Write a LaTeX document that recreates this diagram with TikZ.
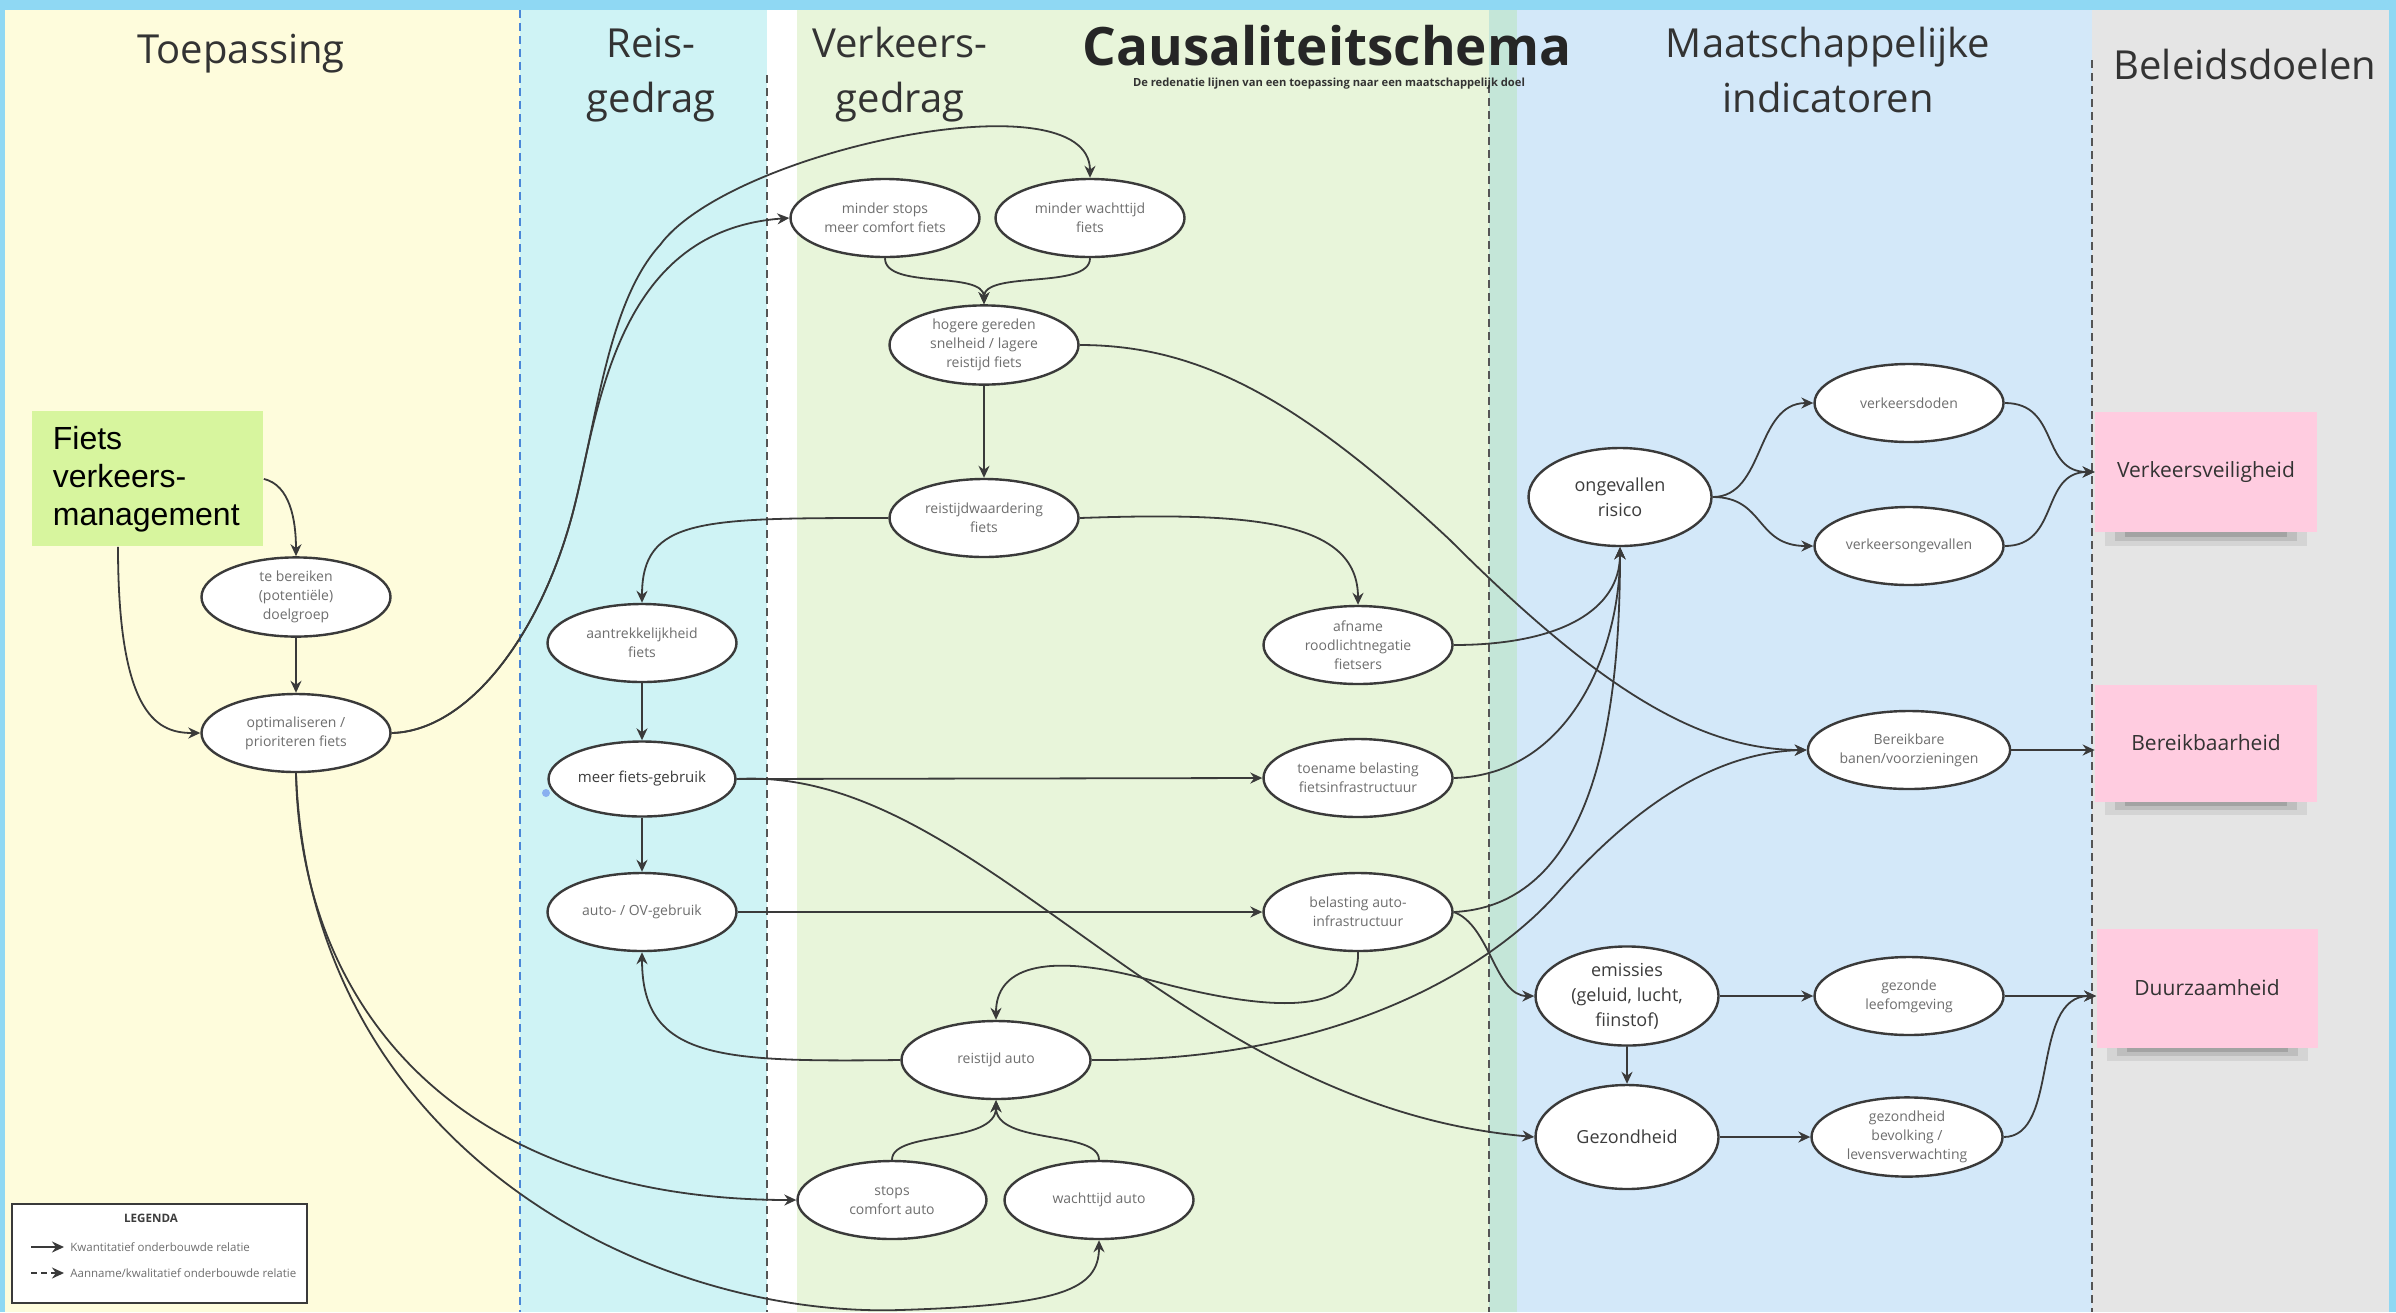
\documentclass[tikz,border=0pt]{standalone}
\usepackage{fontspec}
\setmainfont{Open Sans}
\newfontfamily\arialf{Liberation Sans}
\usetikzlibrary{arrows.meta,calc,shapes.geometric}
\definecolor{yelc}{HTML}{FEFCDC}
\definecolor{cyanc}{HTML}{CFF3F5}
\definecolor{greenc}{HTML}{E8F5DA}
\definecolor{tealc}{HTML}{C4E6D8}
\definecolor{lbluec}{HTML}{D3E8F9}
\definecolor{grayc}{HTML}{E5E5E5}
\definecolor{borderc}{HTML}{8FD8F3}
\definecolor{pinkc}{HTML}{FFCCE0}
\definecolor{fvmc}{HTML}{D7F59E}
\definecolor{linec}{HTML}{3A3A3A}
\definecolor{txtg}{HTML}{6E6E6E}
\definecolor{txtd}{HTML}{3C3C3C}
\definecolor{headc}{HTML}{333333}
\definecolor{sepc}{HTML}{555555}
\definecolor{bluesep}{HTML}{4A86D8}
\definecolor{bluedot}{HTML}{8AB0F0}
\tikzset{
  ell/.style={ellipse, draw=linec, line width=1.2pt, fill=white, minimum width=94.5pt, minimum height=39pt,
    inner sep=1pt, align=center, font=\fontsize{7}{9.5}\selectfont, text=txtg},
  ellbig/.style={ell, minimum width=91.5pt, minimum height=49pt, font=\fontsize{9}{12.5}\selectfont, text=txtd},
  arr/.style={draw=linec, line width=0.9pt, -{Stealth[length=6pt,width=5.5pt]}},
  dasharr/.style={arr, dash pattern=on 3pt off 2pt},
  note/.style={rectangle, fill=pinkc, minimum width=111pt, minimum height=60pt, inner sep=0pt,
    font=\fontsize{10.5}{12}\selectfont, text=headc},
  heading/.style={font=\fontsize{20}{27.5}\selectfont, text=headc, align=center},
  vsep/.style={draw=sepc, line width=0.6pt, dash pattern=on 4pt off 2.5pt},
  legtext/.style={font=\fontsize{5.75}{7}\selectfont, text=txtg, anchor=west, inner sep=0pt},
}
\begin{document}
\begin{tikzpicture}[x=0.5pt,y=-0.5pt]
\useasboundingbox (0,0) rectangle (2396,1312);
% backgrounds
\fill[borderc] (0,0) rectangle (2396,1312);
\fill[yelc] (5,10) rectangle (520,1312);
\fill[cyanc] (520,10) rectangle (767,1312);
\fill[white] (767,10) rectangle (797,1312);
\fill[greenc] (797,10) rectangle (1489,1312);
\fill[tealc] (1489,10) rectangle (1517,1312);
\fill[lbluec] (1517,10) rectangle (2092,1312);
\fill[grayc] (2092,10) rectangle (2389,1312);
\draw[draw=bluesep, line width=0.6pt, dash pattern=on 4pt off 2.5pt] (520,10) -- (520,1312);
\draw[vsep] (767,75) -- (767,1312);
\draw[vsep] (1489,85) -- (1489,1312);
\draw[vsep] (2092,60) -- (2092,1312);

% headings
\node[heading] (hToe) at (241,54) {Toepassing};
\node[heading] (hReis) at (651,75) {Reis-\\gedrag};
\node[heading] (hVerk) at (900,75) {Verkeers-\\gedrag};
\node[font=\fontsize{26.5}{30}\selectfont\bfseries, text=black!85] (hCaus) at (1327,46) {Causaliteitschema};
\node[font=\fontsize{5.6}{7}\selectfont\bfseries, text=headc] (hSub) at (1329,84) {De redenatie lijnen van een toepassing naar een maatschappelijk doel};
\node[heading] (hMaat) at (1828,70) {Maatschappelijke\\indicatoren};
\node[heading] (hBel) at (2245,64) {Beleidsdoelen};

% sticky note shadows
\foreach \l/\r/\b in {2095/2317/532, 2095/2317/801, 2097/2318/1047}{
  \fill[black, opacity=0.07] (\l+10,\b) rectangle (\r-10,\b+14);
  \fill[black, opacity=0.10] (\l+20,\b) rectangle (\r-20,\b+9);
  \fill[black, opacity=0.14] (\l+30,\b) rectangle (\r-30,\b+5);
}

% nodes
\node[rectangle, fill=fvmc, anchor=north west, minimum width=115.5pt, minimum height=67.5pt,
  text width=95pt, inner xsep=10pt, align=left, font=\arialf\fontsize{16}{19}\selectfont, text=black]
  (fvm) at (32,411) {Fiets\\verkeers-\\management};
\node[ell] (tb) at (296,597) {te bereiken\\(potentiële)\\doelgroep};
\node[ell] (opt) at (296,733) {optimaliseren /\\prioriteren fiets};
\node[ell] (mscf) at (885,218) {minder stops\\meer comfort fiets};
\node[ell] (mwf) at (1090,218) {minder wachttijd\\fiets};
\node[ell] (hgs) at (984,345) {hogere gereden\\snelheid / lagere\\reistijd fiets};
\node[ell] (rwf) at (984,518) {reistijdwaardering\\fiets};
\node[ell] (aant) at (642,643) {aantrekkelijkheid\\fiets};
\node[ell] (afn) at (1358,645) {afname\\roodlichtnegatie\\fietsers};
\node[ell, minimum width=91.5pt, minimum height=37.5pt, font=\fontsize{7.5}{9.5}\selectfont, text=txtd] (mfg) at (642,779) {meer fiets-gebruik};
\node[ell] (toe) at (1358,778) {toename belasting\\fietsinfrastructuur};
\node[ell] (aov) at (642,912) {auto- / OV-gebruik};
\node[ell] (bai) at (1358,912) {belasting auto-\\infrastructuur};
\node[ell] (rta) at (996,1060) {reistijd auto};
\node[ell] (sca) at (892,1200) {stops\\comfort auto};
\node[ell] (wta) at (1099,1200) {wachttijd auto};
\node[ellbig] (ong) at (1620,497) {ongevallen\\risico};
\node[ell] (vd) at (1909,403) {verkeersdoden};
\node[ell] (vo) at (1909,546) {verkeersongevallen};
\node[ell] (bb) at (1909,750) {Bereikbare\\banen/voorzieningen};
\node[ellbig, minimum height=48pt] (emi) at (1627,996) {emissies\\(geluid, lucht,\\fiinstof)};
\node[ellbig, minimum height=52pt] (gez) at (1627,1137) {Gezondheid};
\node[ell] (gl) at (1909,996) {gezonde\\leefomgeving};
\node[ell, minimum width=95.5pt] (gb) at (1907,1137) {gezondheid\\bevolking /\\levensverwachting};
\node[note] (vv) at (2206,472) {Verkeersveiligheid};
\node[note, minimum height=58.5pt] (ba) at (2206,743) {Bereikbaarheid};
\node[note, minimum width=110.5pt, minimum height=59.5pt] (du) at (2207,988) {Duurzaamheid};

\fill[bluedot] (546,793) circle (4);

% edges
\draw[arr] (fvm.east) .. controls (290,485) and (296,520) .. (tb.north);
\draw[arr] ($(fvm.south west)+(86,0)$) .. controls (118,720) and (160,733) .. (opt.west);
\draw[arr] (tb.south) -- (opt.north);
\draw[arr] (opt.east) .. controls (470,731) and (545,630) .. (576,500) .. controls (600,400) and (620,230) .. (mscf.west);
\draw[arr] (opt.east) .. controls (470,731) and (545,630) .. (576,500) .. controls (598,410) and (610,300) .. (660,245) .. controls (730,150) and (1090,75) .. (mwf.north);
\draw[arr] (opt.south) .. controls (300,1000) and (450,1200) .. (sca.west);
\draw[arr] (opt.south) .. controls (310,1150) and (650,1318) .. (900,1310) .. controls (1060,1305) and (1099,1290) .. (wta.south);
\draw[arr] (mfg.east) .. controls (980,765) and (1170,1105) .. (gez.west);
\draw[arr] (mfg.east) -- (toe.west);
\draw[arr] (aant.south) -- (mfg.north);
\draw[arr] (mfg.south) -- (aov.north);
\draw[arr] (aov.east) -- (bai.west);
\draw[arr] (mscf.south) .. controls (885,290) and (984,270) .. (hgs.north);
\draw[arr] (mwf.south) .. controls (1090,290) and (984,270) .. (hgs.north);
\draw[arr] (hgs.south) -- (rwf.north);
\draw[arr] (hgs.east) .. controls (1200,345) and (1300,400) .. (1450,540) .. controls (1600,690) and (1700,750) .. (bb.west);
\draw[arr] (rwf.west) .. controls (700,518) and (642,518) .. (aant.north);
\draw[arr] (rwf.east) .. controls (1250,512) and (1358,520) .. (afn.north);
\draw[arr] (afn.east) .. controls (1560,645) and (1620,610) .. (ong.south);
\draw[arr] (toe.east) .. controls (1570,775) and (1620,650) .. (ong.south);
\draw[arr] (bai.east) .. controls (1600,905) and (1620,700) .. (ong.south);
\draw[arr] (bai.east) .. controls (1490,925) and (1495,996) .. (emi.west);
\draw[arr] (bai.south) .. controls (1360,1020) and (1260,1010) .. (1150,980) .. controls (1040,950) and (996,970) .. (rta.north);
\draw[arr] (rta.west) .. controls (720,1062) and (642,1060) .. (aov.south);
\draw[arr] (rta.east) .. controls (1350,1062) and (1500,960) .. (1560,890) .. controls (1640,800) and (1720,752) .. (bb.west);
\draw[arr] (sca.north) .. controls (892,1130) and (996,1145) .. (rta.south);
\draw[arr] (wta.north) .. controls (1099,1130) and (996,1145) .. (rta.south);
\draw[arr] (ong.east) .. controls (1765,497) and (1755,403) .. (vd.west);
\draw[arr] (ong.east) .. controls (1765,497) and (1755,546) .. (vo.west);
\draw[arr] (vd.east) .. controls (2060,403) and (2040,472) .. (vv.west);
\draw[arr] (vo.east) .. controls (2060,546) and (2040,472) .. (vv.west);
\draw[arr] (bb.east) -- (bb.east -| ba.west);
\draw[arr] (emi.east) -- (gl.west);
\draw[arr] (emi.south) -- (gez.north);
\draw[arr] (gez.east) -- (gb.west);
\draw[arr] (gl.east) -- (gl.east -| du.west);
\draw[arr] (gb.east) .. controls (2060,1137) and (2030,996) .. (gl.east -| du.west);

% legend
\node[rectangle, draw=linec, line width=0.9pt, fill=white, anchor=north west, minimum width=147.5pt, minimum height=49.5pt, inner sep=0pt] (leg) at (11,1203) {};
\node[font=\fontsize{5.8}{7}\selectfont\bfseries, text=txtd] (legt) at (151,1218) {LEGENDA};
\coordinate (l1a) at (31,1247);
\coordinate (l1b) at (64,1247);
\coordinate (l2a) at (31,1273);
\coordinate (l2b) at (64,1273);
\draw[arr] (l1a) -- (l1b);
\draw[dasharr] (l2a) -- (l2b);
\node[legtext] (leg1) at (70,1247) {Kwantitatief onderbouwde relatie};
\node[legtext] (leg2) at (70,1273) {Aanname/kwalitatief onderbouwde relatie};
\end{tikzpicture}
\end{document}
